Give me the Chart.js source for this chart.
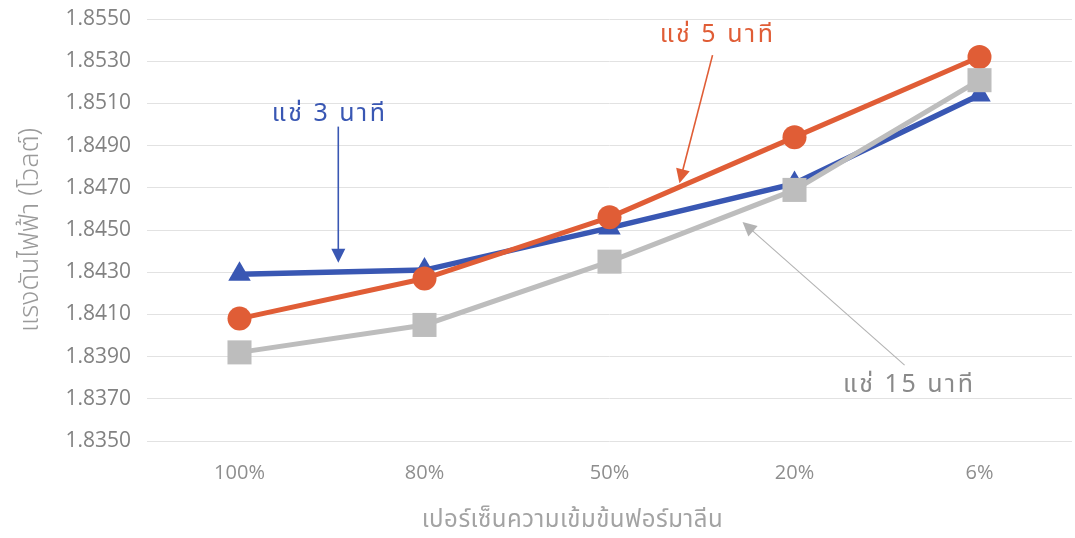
<!DOCTYPE html>
<html>
<head>
<meta charset="utf-8">
<script src="https://cdn.jsdelivr.net/npm/chart.js@4/dist/chart.umd.min.js"></script>
<style>
  html, body { margin: 0; padding: 0; background: #ffffff; }
  #wrap { width: 1075px; height: 538px; }
</style>
</head>
<body>
<div id="wrap"><canvas id="c" width="1075" height="538"></canvas></div>
<script>
// Formalin concentration (x) against measured voltage (y), one series per soaking time
const categories = ['100%', '80%', '50%', '20%', '6%'];
const soak3min  = [1.8429, 1.8431, 1.8451, 1.8472, 1.8514];
const soak5min  = [1.8408, 1.8427, 1.8456, 1.8494, 1.8532];
const soak15min = [1.8392, 1.8405, 1.8435, 1.8469, 1.8521];
const seriesNames = ['แช่ 3 นาที', 'แช่ 5 นาที', 'แช่ 15 นาที'];
const yTicks = [1.8350, 1.8370, 1.8390, 1.8410, 1.8430, 1.8450, 1.8470, 1.8490, 1.8510, 1.8530, 1.8550];
const xTitle = 'เปอร์เซ็นความเข้มข้นฟอร์มาลีน';
const yTitle = 'แรงดันไฟฟ้า (โวลต์)';

const BLUE = '#3957b3';
const ORANGE = '#e05d36';
const GREY = '#bdbdbd';
const THAI_FONT = '"Noto Sans Thai", "Noto Sans Thai UI", Loma, Garuda, "Noto Sans", sans-serif';
const NUM_FONT = '"Open Sans", Lato, "Noto Sans", sans-serif';

// Callout labels: text position and arrow (from -> to) given in category index / voltage units
const callouts = [
  { text: seriesNames[0], color: BLUE,   at: [0.487, 1.85040], from: [0.534, 1.84990], to: [0.534, 1.84345], width: 1.6 },
  { text: seriesNames[1], color: ORANGE, at: [2.584, 1.85414], from: [2.557, 1.85329], to: [2.378, 1.84722], width: 1.6 },
  { text: seriesNames[2], color: '#8a8a8a', lineColor: '#b3b3b3', at: [3.62, 1.83756], from: [3.595, 1.83860], to: [2.719, 1.84538], width: 1.1 }
];

const calloutPlugin = {
  id: 'callouts',
  afterDatasetsDraw(chart) {
    const { ctx, chartArea, scales: { x, y } } = chart;
    ctx.save();
    callouts.forEach(c => {
      const head = 14;
      const x1 = x.getPixelForValue(c.from[0]), y1 = y.getPixelForValue(c.from[1]);
      const x2 = x.getPixelForValue(c.to[0]),   y2 = y.getPixelForValue(c.to[1]);
      const ang = Math.atan2(y2 - y1, x2 - x1);
      const lc = c.lineColor || c.color;
      ctx.strokeStyle = lc;
      ctx.lineWidth = c.width;
      ctx.beginPath();
      ctx.moveTo(x1, y1);
      ctx.lineTo(x2 - Math.cos(ang) * head * 0.8, y2 - Math.sin(ang) * head * 0.8);
      ctx.stroke();
      const hw = head * 0.5;
      const bx = x2 - Math.cos(ang) * head, by = y2 - Math.sin(ang) * head;
      ctx.fillStyle = lc;
      ctx.beginPath();
      ctx.moveTo(x2, y2);
      ctx.lineTo(bx + Math.sin(ang) * hw, by - Math.cos(ang) * hw);
      ctx.lineTo(bx - Math.sin(ang) * hw, by + Math.cos(ang) * hw);
      ctx.closePath();
      ctx.fill();
      ctx.fillStyle = c.color;
      ctx.font = '25px ' + THAI_FONT;
      ctx.letterSpacing = '2.5px';
      ctx.textAlign = 'center';
      ctx.textBaseline = 'middle';
      ctx.fillText(c.text, x.getPixelForValue(c.at[0]), y.getPixelForValue(c.at[1]));
    });
    // horizontal axis title, sitting slightly left of the plot centre
    ctx.letterSpacing = '0.5px';
    ctx.fillStyle = '#a3a3a3';
    ctx.font = '24px ' + THAI_FONT;
    ctx.textAlign = 'center';
    ctx.textBaseline = 'middle';
    ctx.fillText(xTitle, x.getPixelForValue(1.8), chartArea.bottom + 81);
    ctx.restore();
  }
};

new Chart(document.getElementById('c'), {
  type: 'line',
  data: {
    labels: categories,
    datasets: [
      { label: seriesNames[0], data: soak3min, borderColor: BLUE, backgroundColor: BLUE,
        borderWidth: 5.5, pointStyle: 'triangle', pointRadius: 13, pointBorderWidth: 0, order: 2 },
      { label: seriesNames[1], data: soak5min, borderColor: ORANGE, backgroundColor: ORANGE,
        borderWidth: 5, pointStyle: 'circle', pointRadius: 12, pointBorderWidth: 0, order: 1 },
      { label: seriesNames[2], data: soak15min, borderColor: GREY, backgroundColor: GREY,
        borderWidth: 5, pointStyle: 'rect', pointRadius: 17, pointBorderWidth: 0, order: 0 }
    ]
  },
  options: {
    responsive: false,
    animation: false,
    layout: { autoPadding: false, padding: { left: 0, right: 3, top: 19, bottom: 0 } },
    plugins: {
      legend: { display: false },
      tooltip: { enabled: false }
    },
    scales: {
      x: {
        type: 'category',
        offset: true,
        grid: { display: false, drawTicks: false },
        border: { display: false },
        ticks: { color: '#8e8e8e', font: { family: NUM_FONT, size: 20 }, padding: 20, maxRotation: 0 },
        afterFit(s) { s.height = 97; s.paddingLeft = 0; s.paddingRight = 0; }
      },
      y: {
        min: 1.835,
        max: 1.855,
        afterBuildTicks(s) { s.ticks = yTicks.map(v => ({ value: v })); },
        grid: { color: '#e2e2e2', lineWidth: 1, drawTicks: false },
        border: { display: false },
        ticks: { color: '#828282', font: { family: NUM_FONT, size: 21 }, padding: 16,
                 callback: v => Number(v).toFixed(4) },
        title: { display: true, text: yTitle, color: '#9a9a9a',
                 font: { family: THAI_FONT, size: 27, weight: 300 }, padding: { top: 16, bottom: 0 } },
        afterFit(s) { s.width = 147; s.paddingTop = 0; s.paddingBottom = 0; }
      }
    }
  },
  plugins: [calloutPlugin]
});
</script>
</body>
</html>
